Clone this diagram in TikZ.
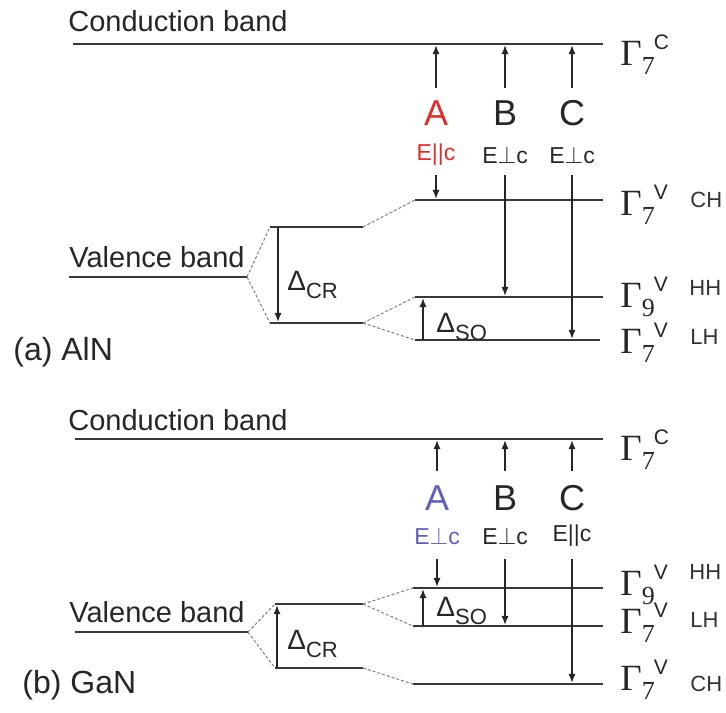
\documentclass[tikz,border=0pt]{standalone}
\usepackage{fontspec}
\setmainfont{Liberation Sans}
\newfontfamily\symfont{Liberation Serif}
\usetikzlibrary{arrows.meta}

\definecolor{clA}{RGB}{222,45,45}
\definecolor{clB}{RGB}{95,95,195}

% level label: Gamma, subscript, superscript
\newcommand{\gam}[2]{{\symfont\fontsize{18.5}{19}\selectfont Γ}\raisebox{-4.5pt}{\symfont\fontsize{13}{13}\selectfont #1}\kern-0.5pt\raisebox{8pt}{\fontsize{10.5}{11}\selectfont #2}}
\newcommand{\dlt}[1]{{\fontsize{14}{14}\selectfont Δ}\raisebox{-4pt}{\fontsize{11}{11}\selectfont #1}}

\tikzset{
  level/.style={line width=1.4pt, black!78},
  split/.style={gray, line width=0.5pt, dash pattern=on 1.5pt off 1pt},
  trans/.style={-{Latex[length=4.5pt,width=3.6pt]}, shorten >=0.6pt, line width=0.6pt, black!85},
  bandtxt/.style={anchor=base west, inner sep=0, text=black!85, font=\fontsize{14.5}{17}\selectfont},
  pantxt/.style={anchor=base west, inner sep=0, text=black!85, font=\fontsize{16}{19}\selectfont},
  gamtxt/.style={anchor=base west, inner sep=0, text=black!85},
  holetxt/.style={anchor=west, inner sep=0, text=black!80, font=\fontsize{11}{13}\selectfont},
  trtxt/.style={inner sep=0, text=black!85, font=\fontsize{18}{20}\selectfont},
  poltxt/.style={inner sep=0, text=black!85, font=\fontsize{11.5}{13}\selectfont},
  dtxt/.style={anchor=base west, inner sep=0, text=black!85}
}

\begin{document}
\begin{tikzpicture}[x=0.5pt, y=-0.5pt]
\useasboundingbox (0,0) rectangle (726,712);

%% (a) AlN
\coordinate (cbaL) at (73,44);   \coordinate (cbaR) at (603,44);
\coordinate (vbaL) at (69,277);  \coordinate (vbaR) at (247,277);
\coordinate (muaL) at (270,227); \coordinate (muaR) at (363,227);
\coordinate (mlaL) at (270,323); \coordinate (mlaR) at (363,323);
\coordinate (chaL) at (415,200); \coordinate (chaR) at (603,200);
\coordinate (hhaL) at (415,297); \coordinate (hhaR) at (603,297);
\coordinate (lhaL) at (415,340); \coordinate (lhaR) at (600,340);

\draw[level] (cbaL) -- (cbaR);
\draw[level] (vbaL) -- (vbaR);
\draw[level] (muaL) -- (muaR);
\draw[level] (mlaL) -- (mlaR);
\draw[level] (chaL) -- (chaR);
\draw[level] (hhaL) -- (hhaR);
\draw[level] (lhaL) -- (lhaR);
\draw[split] (vbaR) -- (muaL) (vbaR) -- (mlaL)
  (muaR) -- (chaL) (mlaR) -- (hhaL) (mlaR) -- (lhaL);

\node[bandtxt] (cbta) at (68,32) {Conduction band};
\node[bandtxt] (vbta) at (69,267) {Valence band};
\node[pantxt] (pana) at (13,360) {(a) AlN};

\node[gamtxt] (gca) at (620,65) {\gam{7}{C}};
\node[gamtxt] (gcha) at (620,215) {\gam{7}{V}};
\node[gamtxt] (ghha) at (620,307) {\gam{9}{V}};
\node[gamtxt] (glha) at (620,353) {\gam{7}{V}};
\node[holetxt] (cha) at (690,200) {CH};
\node[holetxt] (hha) at (689,288) {HH};
\node[holetxt] (lha) at (690,337) {LH};

\node[trtxt, text=clA] (Aa) at (436,113) {A};
\node[trtxt] (Ba) at (505,113) {B};
\node[trtxt] (Ca) at (572,113) {C};
\node[poltxt, text=clA] (pAa) at (436,155) {E||c};
\node[poltxt] (pBa) at (505,155) {E$\perp$c};
\node[poltxt] (pCa) at (572,155) {E$\perp$c};

\coordinate (tua) at (0,88);
\coordinate (tda) at (0,175);
\draw[trans] (Aa |- tua) -- (Aa |- cbaL);
\draw[trans] (Ba |- tua) -- (Ba |- cbaL);
\draw[trans] (Ca |- tua) -- (Ca |- cbaL);
\draw[trans] (pAa |- tda) -- (pAa |- chaL);
\draw[trans] (pBa |- tda) -- (pBa |- hhaL);
\draw[trans] (pCa |- tda) -- (pCa |- lhaL);

\coordinate (dcra) at (278,0);
\coordinate (dsoa) at (423,0);
\draw[trans] (dcra |- muaL) -- (dcra |- mlaL);
\draw[trans] (dsoa |- lhaL) -- (dsoa |- hhaL);
\node[dtxt] (dcrla) at (287,290) {\dlt{CR}};
\node[dtxt] (dsola) at (436,332) {\dlt{SO}};

%% (b) GaN
\coordinate (cbbL) at (75,439);  \coordinate (cbbR) at (603,439);
\coordinate (vbbL) at (75,632);  \coordinate (vbbR) at (248,632);
\coordinate (mubL) at (275,604); \coordinate (mubR) at (363,604);
\coordinate (mlbL) at (275,668); \coordinate (mlbR) at (363,668);
\coordinate (hhbL) at (413,588); \coordinate (hhbR) at (603,588);
\coordinate (lhbL) at (413,626); \coordinate (lhbR) at (603,626);
\coordinate (chbL) at (413,684); \coordinate (chbR) at (603,684);

\draw[level] (cbbL) -- (cbbR);
\draw[level] (vbbL) -- (vbbR);
\draw[level] (mubL) -- (mubR);
\draw[level] (mlbL) -- (mlbR);
\draw[level] (hhbL) -- (hhbR);
\draw[level] (lhbL) -- (lhbR);
\draw[level] (chbL) -- (chbR);
\draw[split] (vbbR) -- (mubL) (vbbR) -- (mlbL)
  (mubR) -- (hhbL) (mubR) -- (lhbL) (mlbR) -- (chbL);

\node[bandtxt] (cbtb) at (68,430) {Conduction band};
\node[bandtxt] (vbtb) at (69,622) {Valence band};
\node[pantxt] (panb) at (22,693) {(b) GaN};

\node[gamtxt] (gcb) at (620,460) {\gam{7}{C}};
\node[gamtxt] (ghhb) at (620,595) {\gam{9}{V}};
\node[gamtxt] (glhb) at (620,633) {\gam{7}{V}};
\node[gamtxt] (gchb) at (620,690) {\gam{7}{V}};
\node[holetxt] (hhb) at (689,572) {HH};
\node[holetxt] (lhb) at (690,620) {LH};
\node[holetxt] (chb) at (690,684) {CH};

\node[trtxt, text=clB] (Ab) at (437,498) {A};
\node[trtxt] (Bb) at (505,498) {B};
\node[trtxt] (Cb) at (572,498) {C};
\node[poltxt, text=clB] (pAb) at (437,536) {E$\perp$c};
\node[poltxt] (pBb) at (505,536) {E$\perp$c};
\node[poltxt] (pCb) at (572,536) {E||c};

\coordinate (tub) at (0,471);
\coordinate (tdb) at (0,559);
\draw[trans] (Ab |- tub) -- (Ab |- cbbL);
\draw[trans] (Bb |- tub) -- (Bb |- cbbL);
\draw[trans] (Cb |- tub) -- (Cb |- cbbL);
\draw[trans] (pAb |- tdb) -- (pAb |- hhbL);
\draw[trans] (pBb |- tdb) -- (pBb |- lhbL);
\draw[trans] (pCb |- tdb) -- (pCb |- chbL);

\coordinate (dcrb) at (277,0);
\coordinate (dsob) at (423,0);
\draw[trans] (dcrb |- mlbL) -- (dcrb |- mubL);
\draw[trans] (dsob |- lhbL) -- (dsob |- hhbL);
\node[dtxt] (dcrlb) at (287,649) {\dlt{CR}};
\node[dtxt] (dsolb) at (436,616) {\dlt{SO}};
\end{tikzpicture}
\end{document}
